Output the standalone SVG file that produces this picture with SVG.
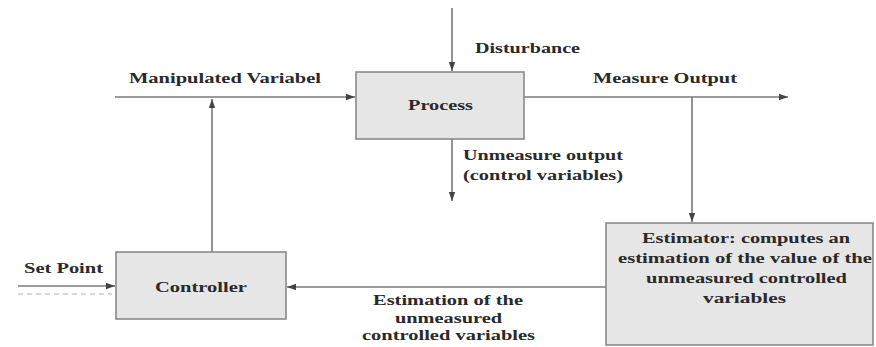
<svg xmlns="http://www.w3.org/2000/svg" width="876" height="347" viewBox="0 0 876 347">
<defs>
<style>
.box{fill:#e6e6e6;stroke:#8a8a8a;stroke-width:1.6}
.ln{stroke:#7a7a7a;stroke-width:1.6;fill:none}
.dash{stroke:#b0b0b0;stroke-width:1.2;fill:none;stroke-dasharray:5 4}
text{font-family:"Liberation Serif","Times New Roman",serif;font-weight:bold;font-size:15px;fill:#2a2a2a}
</style>
<marker id="arr" markerUnits="userSpaceOnUse" markerWidth="10" markerHeight="8" refX="9" refY="4" orient="auto">
<path d="M0,0.8 L9,4 L0,7.2 Z" fill="#444"/>
</marker>
</defs>
<rect width="876" height="347" fill="#ffffff"/>
<g id="connectors">
<line class="ln" x1="452" y1="8" x2="452" y2="71" marker-end="url(#arr)"/>
<line class="ln" x1="115" y1="97" x2="355" y2="97" marker-end="url(#arr)"/>
<line class="ln" x1="212" y1="252" x2="212" y2="99" marker-end="url(#arr)"/>
<line class="ln" x1="524" y1="97" x2="788" y2="97" marker-end="url(#arr)"/>
<line class="ln" x1="692" y1="97" x2="692" y2="222" marker-end="url(#arr)"/>
<line class="ln" x1="452" y1="139" x2="452" y2="201" marker-end="url(#arr)"/>
<line class="ln" x1="18" y1="286" x2="115" y2="286" marker-end="url(#arr)"/>
<line class="dash" x1="18" y1="294" x2="112" y2="294"/>
<line class="ln" x1="606" y1="287" x2="287" y2="287" marker-end="url(#arr)"/>
<text x="129" y="83" textLength="192" lengthAdjust="spacingAndGlyphs">Manipulated Variabel</text>
<text x="475" y="53" textLength="105" lengthAdjust="spacingAndGlyphs">Disturbance</text>
<text x="593" y="83" textLength="144" lengthAdjust="spacingAndGlyphs">Measure Output</text>
<text x="463" y="160" textLength="160" lengthAdjust="spacingAndGlyphs">Unmeasure output</text>
<text x="463" y="180" textLength="160" lengthAdjust="spacingAndGlyphs">(control variables)</text>
<text x="24" y="273" textLength="79" lengthAdjust="spacingAndGlyphs">Set Point</text>
<text x="373" y="305" textLength="150" lengthAdjust="spacingAndGlyphs">Estimation of the</text>
<text x="395" y="323" textLength="107" lengthAdjust="spacingAndGlyphs">unmeasured</text>
<text x="362" y="340" textLength="173" lengthAdjust="spacingAndGlyphs">controlled variables</text>
</g>
<g id="process">
<rect class="box" x="356" y="72" width="168" height="67"/>
<text x="408" y="110" textLength="65" lengthAdjust="spacingAndGlyphs">Process</text>
</g>
<g id="controller">
<rect class="box" x="116" y="252" width="170" height="67"/>
<text x="155" y="292" textLength="92" lengthAdjust="spacingAndGlyphs">Controller</text>
</g>
<g id="estimator">
<rect class="box" x="606" y="223" width="267" height="122"/>
<text x="642" y="243" textLength="208" lengthAdjust="spacingAndGlyphs">Estimator: computes an</text>
<text x="618" y="263" textLength="254" lengthAdjust="spacingAndGlyphs">estimation of the value of the</text>
<text x="646" y="283" textLength="201" lengthAdjust="spacingAndGlyphs">unmeasured controlled</text>
<text x="703" y="303" textLength="83" lengthAdjust="spacingAndGlyphs">variables</text>
</g>
</svg>
